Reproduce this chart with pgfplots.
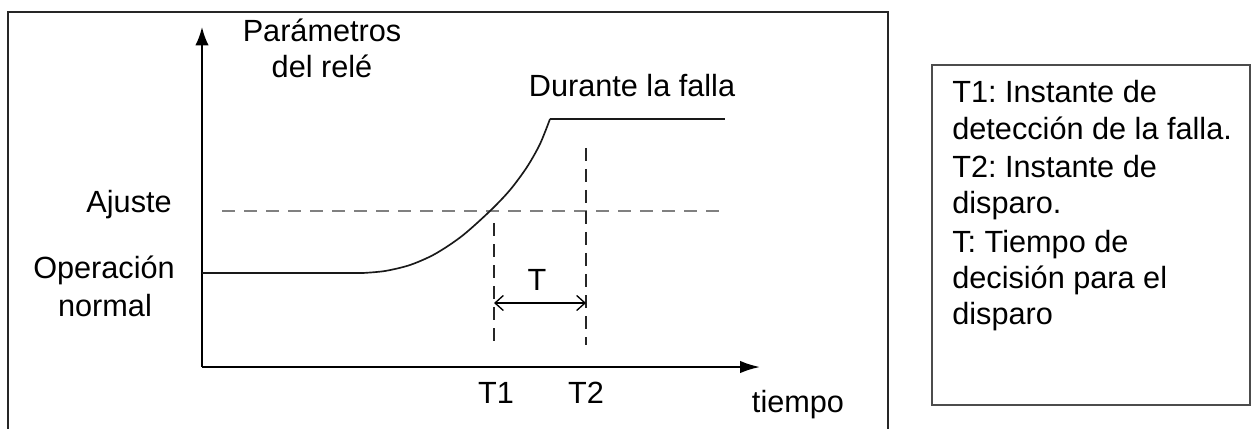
\documentclass[border=0pt]{standalone}
\usepackage{fontspec}
\setmainfont{Liberation Sans}
\usepackage{pgfplots}
\pgfplotsset{compat=1.18}
\usetikzlibrary{arrows.meta}
\frenchspacing
\begin{document}
\begin{tikzpicture}[font=\fontsize{18.4pt}{22pt}\selectfont]
\begin{axis}[
  at={(0,0)}, anchor=south west,
  width=753.6pt, height=256.8pt, scale only axis,
  xmin=0, xmax=1256, ymin=0, ymax=428, y dir=reverse,
  hide axis, clip=false]
% frames
\draw[line width=1.2pt, black!85] (axis cs:8,430) -- (axis cs:8,12) -- (axis cs:888,12) -- (axis cs:888,430);
\draw[line width=1pt, black!70] (axis cs:932,65) rectangle (axis cs:1250,405);
% axes
\addplot[line width=1.2pt, black, -{Latex[length=11pt,width=8pt]}] coordinates {(202,367) (202,27)};
\addplot[line width=1.2pt, black, -{Latex[length=12pt,width=7.5pt]}] coordinates {(202,367) (760,367)};
% ajuste dashed
\addplot[line width=1.5pt, black!50, dash pattern=on 7.5pt off 5.7pt] coordinates {(222,211) (722,211)};
% vertical dashed lines
\addplot[line width=1pt, black!85, dash pattern=on 7.8pt off 4.8pt] coordinates {(494,223) (494,347)};
\addplot[line width=1pt, black!85, dash pattern=on 7.8pt off 4.8pt] coordinates {(586,148) (586,345)};
% T arrow
\addplot[line width=0.8pt, black, {Straight Barb[length=5pt,width=9pt]}-{Straight Barb[length=5pt,width=9pt]}] coordinates {(494,303) (586,303)};
% relay parameter curve
\addplot[line width=1pt, black!90] coordinates {(202,273) (363,273)};
\addplot[line width=1pt, black!90, smooth] coordinates {(363,273) (385,271) (410,265) (435,254) (462,236) (490,211) (510,190) (527,167) (540,144) (550,119)};
\addplot[line width=1pt, black!90] coordinates {(550,119) (725,119)};
% labels
\node[anchor=base] at (axis cs:322,42) {Parámetros};
\node[anchor=base] at (axis cs:322,78) {del relé};
\node[anchor=base east, inner sep=0pt] at (axis cs:172,213) {Ajuste};
\node[anchor=base] at (axis cs:104,278) {Operación};
\node[anchor=base] at (axis cs:105,316) {normal};
\node[anchor=base] at (axis cs:632,97) {Durante la falla};
\node[anchor=base] at (axis cs:537,290) {T};
\node[anchor=base] at (axis cs:496,403) {T1};
\node[anchor=base] at (axis cs:586,403) {T2};
\node[anchor=base] at (axis cs:798,412) {tiempo};
% right box text
\node[anchor=base west, inner sep=0pt] at (axis cs:952,103) {T1: Instante de};
\node[anchor=base west, inner sep=0pt] at (axis cs:952,140) {detección de la falla.};
\node[anchor=base west, inner sep=0pt] at (axis cs:952,178) {T2: Instante de};
\node[anchor=base west, inner sep=0pt] at (axis cs:952,214) {disparo.};
\node[anchor=base west, inner sep=0pt] at (axis cs:952,252) {T: Tiempo de};
\node[anchor=base west, inner sep=0pt] at (axis cs:952,288) {decisión para el};
\node[anchor=base west, inner sep=0pt] at (axis cs:952,324) {disparo};
\end{axis}
\pgfresetboundingbox
\path (0,0) rectangle (753.6pt,256.8pt);
\end{tikzpicture}
\end{document}
